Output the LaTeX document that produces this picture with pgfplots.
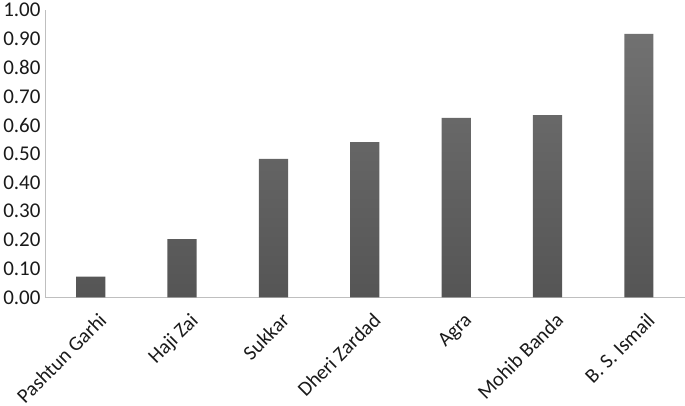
\documentclass[border=0pt]{standalone}
\usepackage{pgfplots}
\pgfplotsset{compat=1.18}
\usepackage{fontspec}
\setmainfont{Carlito}

\definecolor{axisgray}{HTML}{BFBFBF}
\definecolor{bartop}{HTML}{717171}
\definecolor{barbot}{HTML}{555555}
\definecolor{labelc}{HTML}{1A1A1A}

\begin{document}
\begin{tikzpicture}
\begin{axis}[
    scale only axis,
    width=638bp, height=286.5bp,
    xmin=-0.5, xmax=6.5,
    ymin=0, ymax=1,
    axis x line=bottom, axis y line=left,
    axis line style={-, draw=axisgray, line width=0.9pt},
    ytick distance=0.1,
    xtick={0,...,6},
    xticklabels={Pashtun Garhi,Haji Zai,Sukkar,Dheri Zardad,Agra,Mohib Banda,B. S. Ismail},
    major tick length=0pt,
    tick label style={text=labelc},
    x tick label style={font=\fontsize{20.5}{24}\selectfont, rotate=45, anchor=north east,
        inner sep=1pt, xshift=-4pt, yshift=-14pt},
    yticklabel style={font=\fontsize{21}{24}\selectfont, /pgf/number format/fixed,
        /pgf/number format/fixed zerofill, /pgf/number format/precision=2,
        /pgf/number format/assume math mode=true, xshift=-1pt},
    bar width=0.32,
]
\addplot[ybar, draw=none, top color=bartop, bottom color=barbot] coordinates {
    (0,0.072) (1,0.203) (2,0.482) (3,0.541) (4,0.625) (5,0.635) (6,0.918)
};
\end{axis}
\end{tikzpicture}
\end{document}
